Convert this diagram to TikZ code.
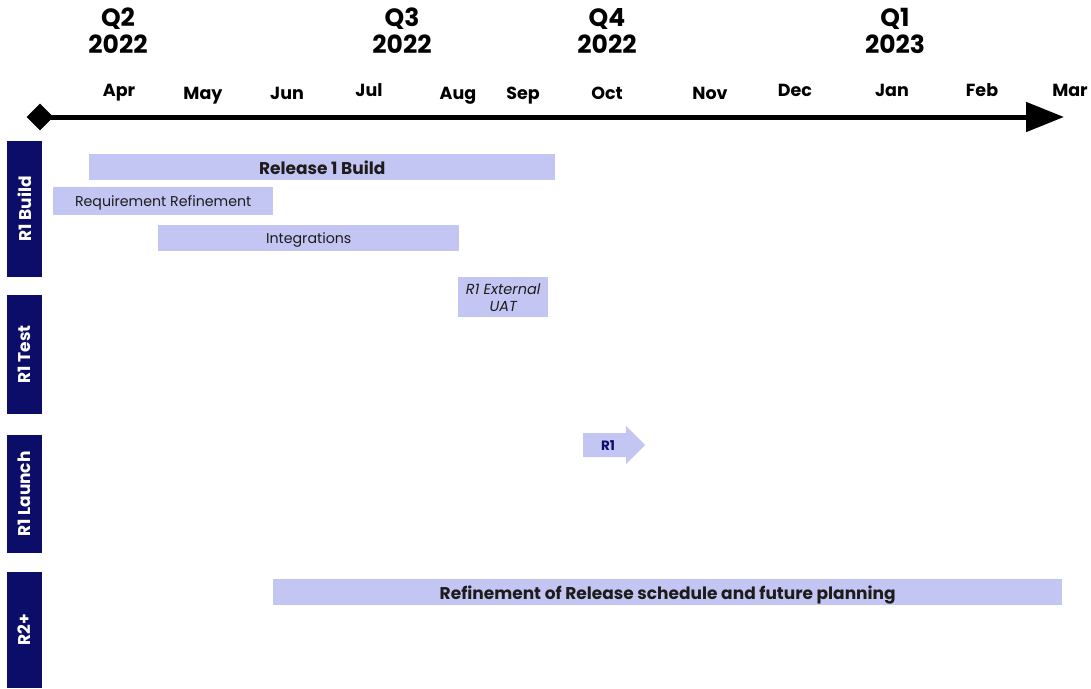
\documentclass[tikz,border=0pt]{standalone}
\usepackage{fontspec}
\setmainfont{Poppins}
\usetikzlibrary{arrows.meta,shapes.geometric}

\definecolor{barblue}{HTML}{C3C6F2}
\definecolor{navy}{HTML}{0B0D68}
\definecolor{ink}{HTML}{1C1C1C}

\tikzset{
    bar/.style={rectangle,fill=barblue,anchor=north west,inner sep=0pt,text=ink,text depth=0pt},
    lane/.style={rectangle,fill=navy,rotate=90,minimum height=35pt,inner sep=0pt,
        text=white,font=\fontsize{17}{19}\selectfont\bfseries},
    month/.style={anchor=base,font=\fontsize{17.5}{20}\selectfont\bfseries},
    quarter/.style={align=center,font=\fontsize{25}{27}\selectfont\bfseries}
}

\begin{document}
\begin{tikzpicture}[x=1pt,y=-1pt]
    \useasboundingbox (0,0) rectangle (1091,688);

    % quarters
    \node at (118,31) [quarter] (q2) {Q2\\2022};
    \node at (402,31) [quarter] (q3) {Q3\\2022};
    \node at (607,31) [quarter] (q4) {Q4\\2022};
    \node at (895,31) [quarter] (q1) {Q1\\2023};

    % months
    \foreach \m/\x/\y in {Apr/119/96,May/203/99,Jun/287/99,Jul/369/96,Aug/458/99,
        Sep/523/99,Oct/607/99,Nov/710/99,Dec/795/96,Jan/892/96,Feb/982/96,Mar/1070/96}
        \node at (\x,\y) [month] (m-\m) {\m};

    % time axis
    \node at (40,117) [diamond,fill=black,minimum size=27pt,inner sep=0pt] (start) {};
    \coordinate (axisend) at (1064,117);
    \draw[line width=5pt,-{Triangle[length=38pt,width=29pt]}] (start.center) -- (axisend);

    % lanes
    \node at (24.5,209) [lane,minimum width=136pt] (build) {R1 Build};
    \node at (24.5,354.5) [lane,minimum width=119pt] (test) {R1 Test};
    \node at (24.5,494) [lane,minimum width=118pt] (launch) {R1 Launch};
    \node at (24.5,630) [lane,minimum width=116pt] (next) {R2+};

    % bars
    \node at (89,154) [bar,minimum width=466pt,minimum height=26pt,
        font=\fontsize{17}{19}\selectfont\bfseries] (rel) {Release 1 Build};
    \node at (53,187) [bar,minimum width=220pt,minimum height=28pt,
        font=\fontsize{14.2}{16}\selectfont] (req) {Requirement Refinement};
    \node at (158,225) [bar,minimum width=301pt,minimum height=26pt,
        font=\fontsize{14.2}{16}\selectfont] (integ) {Integrations};
    \node at (458,277) [bar,minimum width=90pt,minimum height=40pt,align=center,
        font=\fontsize{14.5}{17}\selectfont\itshape] (uat) {R1 External\\UAT};
    \node at (273,579) [bar,minimum width=789pt,minimum height=26pt,
        font=\fontsize{17}{19}\selectfont\bfseries] (plan) {Refinement of Release schedule and future planning};

    % launch arrow
    \fill[barblue] (583,433) -- (626,433) -- (626,426) -- (645,445) -- (626,464)
        -- (626,457) -- (583,457) -- cycle;
    \node at (608,446) [text=navy,font=\fontsize{13.5}{15}\selectfont\bfseries] (r1) {R1};

\end{tikzpicture}
\end{document}
